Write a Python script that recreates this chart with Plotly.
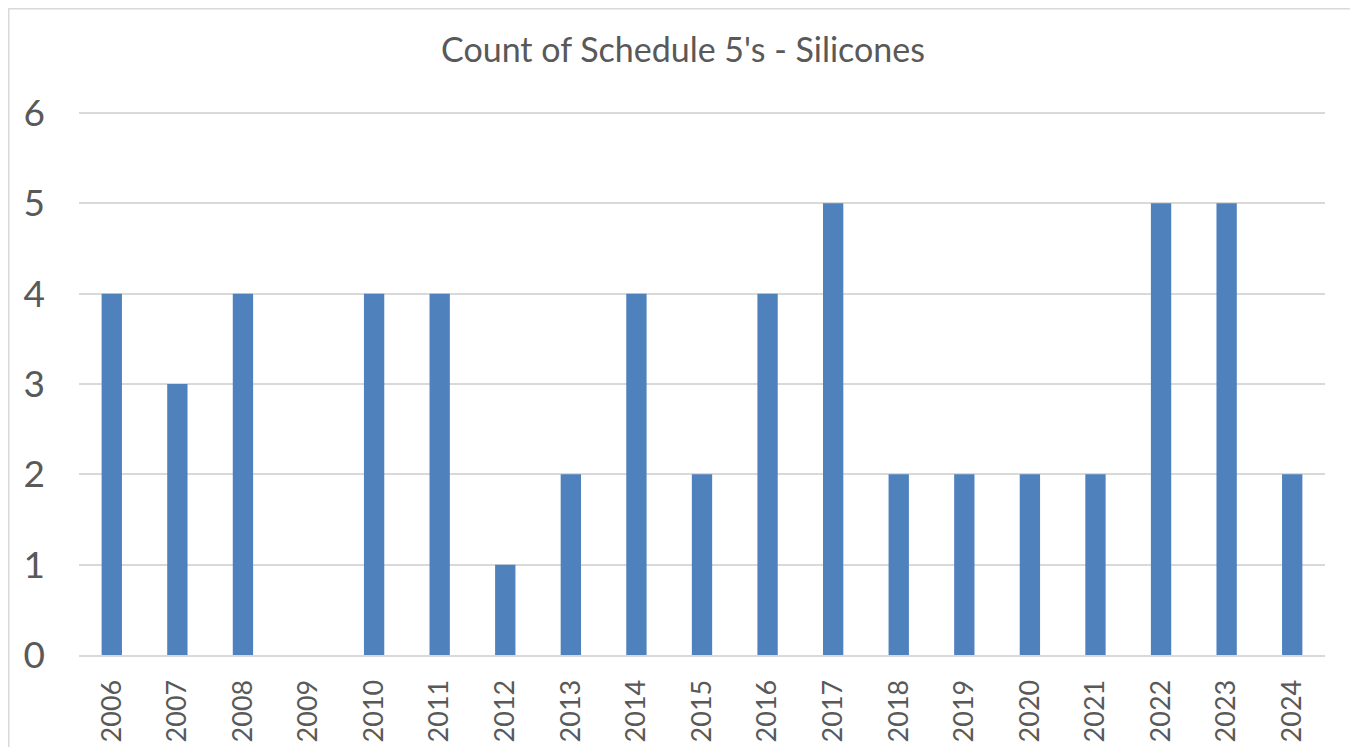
import plotly.graph_objects as go

years = [str(y) for y in range(2006, 2025)]
counts = [4, 3, 4, 0, 4, 4, 1, 2, 4, 2, 4, 5, 2, 2, 2, 2, 5, 5, 2]
y_ticks = [0, 1, 2, 3, 4, 5, 6]

# figure is offset by the page's 8px body margin
W, H = 1350, 739
L, R, T, B = 71, 33, 102, 92
PW, PH = W - L - R, H - T - B
YMAX = 6 * PH / 542.0  # keeps 6 at the same pixel row, leaving room for its gridline

fig = go.Figure(go.Bar(x=years, y=counts, marker=dict(color="#4F81BD", line=dict(width=0))))

fig.update_layout(
    width=W, height=H,
    margin=dict(l=L, r=R, t=T, b=B, autoexpand=False),
    paper_bgcolor="white", plot_bgcolor="white",
    bargap=0.69,
    showlegend=False,
    font=dict(family="Lato, Carlito, Calibri, sans-serif", color="#595959"),
    title=dict(text="Count of Schedule 5's - Silicones", x=0.5, xanchor="center",
               y=1 - 42 / H, yanchor="middle",
               font=dict(size=34, color="#595959")),
    xaxis=dict(type="category", tickangle=-90, tickfont=dict(size=27, color="#595959"),
               showline=True, linecolor="#D9D9D9", linewidth=2, showgrid=False,
               ticks="", ticklabelstandoff=12, automargin=False),
    yaxis=dict(range=[0, YMAX], tickvals=y_ticks, tickfont=dict(size=37, color="#595959"),
               showgrid=True, gridcolor="#D9D9D9", gridwidth=1.5, zeroline=False,
               ticks="", ticklabelstandoff=33, automargin=False),
    shapes=[dict(type="rect", xref="paper", yref="paper",
                 x0=(0.75 - L) / PW, x1=(1346 - L) / PW,
                 y0=(T + PH - 780) / PH, y1=(T + PH - 0.75) / PH,
                 line=dict(color="#D9D9D9", width=1.5), fillcolor="rgba(0,0,0,0)",
                 layer="below")],
)

fig.write_html("out.html")
